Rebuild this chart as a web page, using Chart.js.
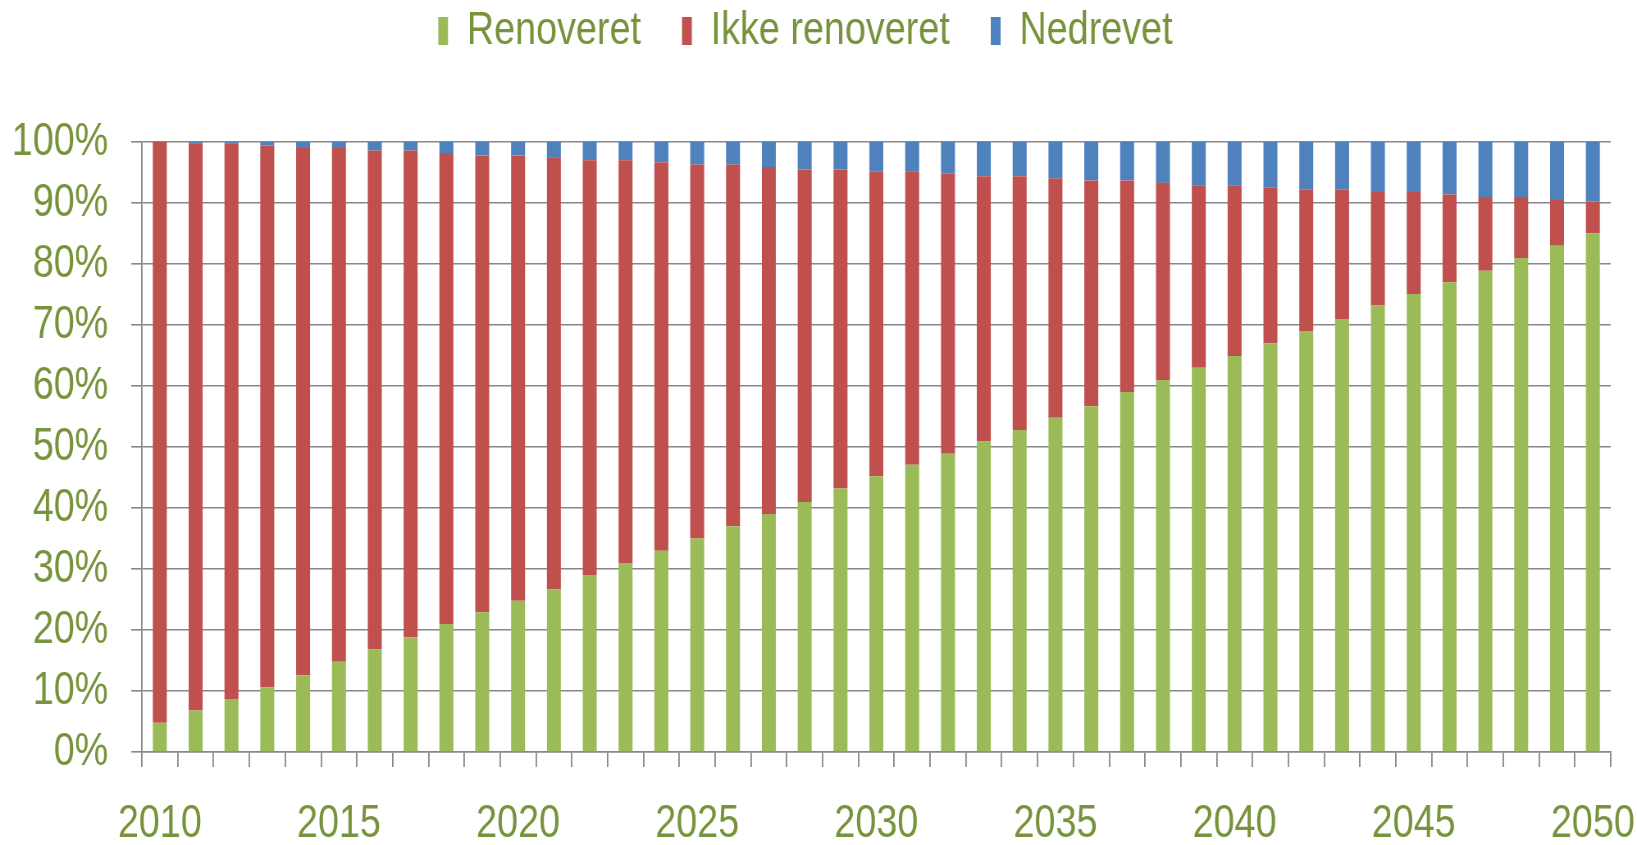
<!DOCTYPE html>
<html>
<head>
<meta charset="utf-8">
<script src="https://cdn.jsdelivr.net/npm/chart.js@4.4.0/dist/chart.umd.min.js"></script>
<style>
html,body{margin:0;padding:0;background:#fff;overflow:hidden}
#wrap{width:1996px;height:845px;position:relative;transform:scaleX(0.82014);transform-origin:0 0}
</style>
</head>
<body>
<div id="wrap"><canvas id="c"></canvas></div>
<script>
// ---- data ----
const years = [2010,2011,2012,2013,2014,2015,2016,2017,2018,2019,2020,2021,2022,2023,2024,2025,2026,2027,2028,2029,2030,2031,2032,2033,2034,2035,2036,2037,2038,2039,2040,2041,2042,2043,2044,2045,2046,2047,2048,2049,2050];
const renoveret = [4.8,6.8,8.7,10.6,12.6,14.8,16.8,18.8,21.0,22.9,24.8,26.7,29.0,31.0,33.0,35.0,37.0,39.0,41.0,43.2,45.2,47.1,48.9,50.9,52.8,54.8,56.7,59.0,61.0,63.0,64.9,67.0,69.0,71.0,73.2,75.1,77.0,78.9,81.0,83.0,85.0];
const nedrevet = [0,0.3,0.3,0.6,1.0,1.0,1.4,1.4,1.8,2.2,2.2,2.6,3.0,3.0,3.3,3.7,3.7,4.1,4.5,4.5,4.8,4.8,5.2,5.6,5.6,6.0,6.3,6.3,6.7,7.1,7.1,7.5,7.8,7.8,8.2,8.2,8.6,9.0,9.0,9.5,9.8];
const ikkeRenoveret = renoveret.map((g, i) => +(100 - g - nedrevet[i]).toFixed(1));
const seriesNames = ['Renoveret', 'Ikke renoveret', 'Nedrevet'];
const yTickValues = [0,10,20,30,40,50,60,70,80,90,100];
const xLabelYears = [2010,2015,2020,2025,2030,2035,2040,2045,2050];

// The page is drawn on a 1996px-wide canvas squeezed to 1637px, giving
// the narrow (Arial Narrow-like) lettering of the original.
const FONT = '"Liberation Sans", Arial, sans-serif';
const TEXT = '#77933C';
const GRID = '#878787';

const legendSpacer = {
  id: 'legendSpacer',
  beforeInit(chart) {
    const origFit = chart.legend.fit;
    chart.legend.fit = function() { origFit.call(this); this.height = 142; };
  },
  afterLayout(chart) {
    chart.legend.top = -42;
  }
};

new Chart(document.getElementById('c'), {
  type: 'bar',
  data: {
    labels: years.map(String),
    datasets: [
      { label: seriesNames[0], data: renoveret, backgroundColor: '#9BBB59' },
      { label: seriesNames[1], data: ikkeRenoveret, backgroundColor: '#C0504D' },
      { label: seriesNames[2], data: nedrevet, backgroundColor: '#4F81BD' }
    ]
  },
  options: {
    responsive: true,
    maintainAspectRatio: false,
    animation: false,
    devicePixelRatio: 1,
    layout: { padding: { left: 0, right: 32, top: 0, bottom: 0 } },
    datasets: { bar: { barPercentage: 0.39, categoryPercentage: 1.0, borderWidth: 0 } },
    plugins: {
      legend: {
        position: 'top',
        labels: {
          color: TEXT,
          font: { family: FONT, size: 46 },
          boxWidth: 12,
          boxHeight: 28,
          padding: 50
        }
      },
      tooltip: { enabled: false }
    },
    scales: {
      x: {
        stacked: true,
        grid: { offset: true, drawOnChartArea: false, drawTicks: true, tickLength: 15, color: GRID, lineWidth: 1.8 },
        border: { display: true, color: GRID, width: 1.6 },
        ticks: {
          autoSkip: false, maxRotation: 0, minRotation: 0,
          color: TEXT, font: { family: FONT, size: 46, lineHeight: 1.2 }, padding: 30,
          callback: function(v, i) { return xLabelYears.includes(years[i]) ? String(years[i]) : ''; }
        },
        afterFit: function(scale) { scale.height = 93; scale.paddingLeft = 0; scale.paddingRight = 0; }
      },
      y: {
        stacked: true,
        min: 0, max: 100,
        afterBuildTicks: function(scale) { scale.ticks = yTickValues.map(v => ({ value: v })); },
        grid: { color: GRID, lineWidth: 1.6, tickLength: 13, drawTicks: true },
        border: { display: true, color: GRID, width: 1.8 },
        ticks: {
          color: TEXT, font: { family: FONT, size: 46 }, padding: 28,
          callback: function(v) { return v + '%'; }
        },
        afterFit: function(scale) { scale.width = 173; }
      }
    }
  },
  plugins: [legendSpacer]
});
</script>
</body>
</html>
